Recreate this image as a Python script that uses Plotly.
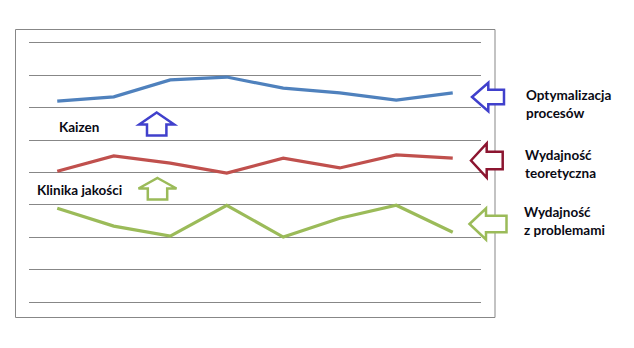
import plotly.graph_objects as go

categories = [1, 2, 3, 4, 5, 6, 7, 8]
optymalizacja = [6.20, 6.33, 6.85, 6.94, 6.60, 6.45, 6.23, 6.45]
teoretyczna = [4.04, 4.51, 4.29, 3.98, 4.44, 4.14, 4.54, 4.44]
z_problemami = [2.90, 2.35, 2.04, 2.99, 2.01, 2.59, 2.99, 2.16]

W, H = 634, 348
L, R, T, B = 29, 153, 41, 44
PW, PH = W - L - R, H - T - B


def px(x):
    return (x - L) / PW


def py(y):
    return (H - B - y) / PH


fig = go.Figure()
for vals, col in [(optymalizacja, "#4F81BD"), (teoretyczna, "#C0504D"), (z_problemami, "#9BBB59")]:
    fig.add_trace(go.Scatter(x=list(range(len(categories))), y=vals, mode="lines",
                             line=dict(color=col, width=3.2), hoverinfo="skip", showlegend=False))


def path(points):
    return "M " + " L ".join(f"{px(a):.5f},{py(b):.5f}" for a, b in points) + " Z"


def up_arrow(cx, tip, wing_y, half_w, half_s, bottom):
    return [(cx, tip), (cx + half_w, wing_y), (cx + half_s, wing_y), (cx + half_s, bottom),
            (cx - half_s, bottom), (cx - half_s, wing_y), (cx - half_w, wing_y)]


def left_arrow(tipx, cy, headx, half_h, half_s, right):
    return [(tipx, cy), (headx, cy - half_h), (headx, cy - half_s), (right, cy - half_s),
            (right, cy + half_s), (headx, cy + half_s), (headx, cy + half_h)]


shapes = [
    dict(type="rect", xref="paper", yref="paper", x0=px(15.5), x1=px(495), y0=py(29.5), y1=py(317.5),
         line=dict(color="#878787", width=1), fillcolor="rgba(0,0,0,0)", layer="below"),
]
arrows = [
    (up_arrow(156.7, 112.5, 124.5, 17.5, 9.7, 135.5), "#4040CC"),
    (up_arrow(157.5, 178, 188.5, 19, 9.7, 199.5), "#9BBB59"),
    (left_arrow(472, 97, 488.3, 14.3, 7.2, 504), "#4040CC"),
    (left_arrow(471, 160.5, 486.7, 17, 8.8, 502.7), "#8C1530"),
    (left_arrow(469.5, 224, 486, 15.5, 8.3, 506.5), "#9BBB59"),
]
for pts, col in arrows:
    shapes.append(dict(type="path", xref="paper", yref="paper", path=path(pts),
                       line=dict(color=col, width=2.5), fillcolor="white", layer="above"))

font = dict(family="Lato", size=13.5, color="#0a0a14", weight="bold")
texts = [
    ("Kaizen", 57, 127),
    ("Klinika jakości", 35, 190),
    ("Optymalizacja<br>procesów", 524, 104),
    ("Wydajność<br>teoretyczna", 523, 163.5),
    ("Wydajność<br>z problemami", 522, 221),
]
annotations = [dict(text=t, x=px(x), y=py(y), xref="paper", yref="paper", xanchor="left",
                    yanchor="middle", align="left", showarrow=False, font=font)
               for t, x, y in texts]

fig.update_layout(
    width=W, height=H, margin=dict(l=L, r=R, t=T, b=B, autoexpand=False),
    paper_bgcolor="white", plot_bgcolor="white",
    xaxis=dict(range=[-0.5, len(categories) - 0.5], showgrid=False, zeroline=False,
               showticklabels=False, showline=False, ticks=""),
    yaxis=dict(range=[-0.05, 8.05], dtick=1, tick0=0, showgrid=True, gridcolor="#878787", gridwidth=1,
               zeroline=False, showticklabels=False, showline=False, ticks=""),
    shapes=shapes, annotations=annotations, showlegend=False,
)
fig.write_html("out.html")
